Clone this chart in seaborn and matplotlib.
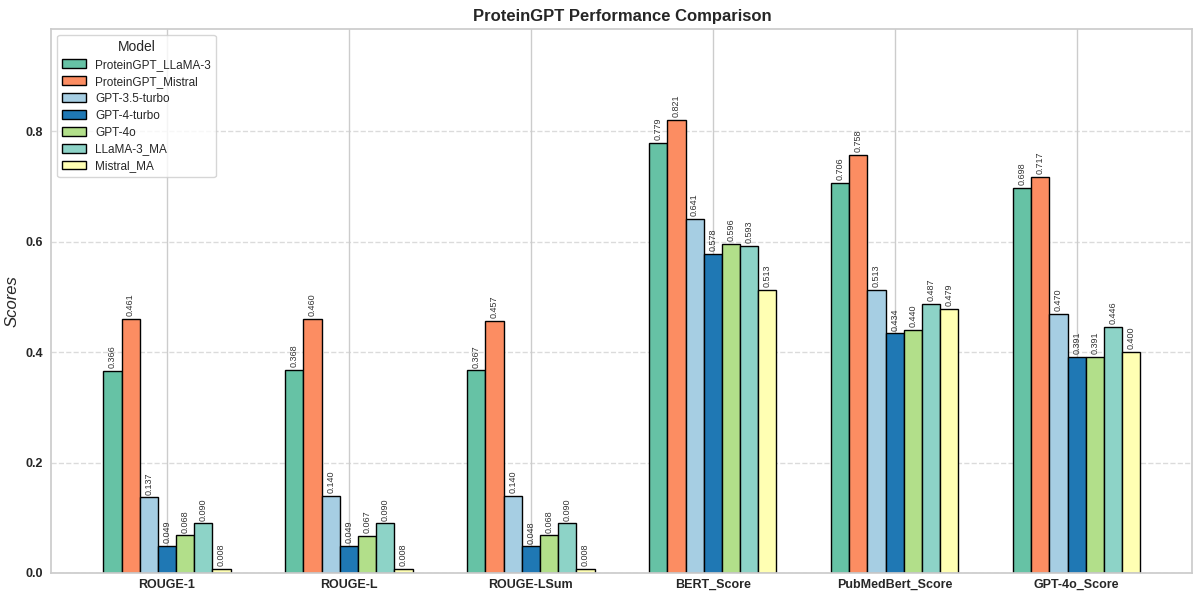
import matplotlib
matplotlib.use("Agg")
import matplotlib.pyplot as plt
import seaborn as sns
import pandas as pd

metrics = ["ROUGE-1", "ROUGE-L", "ROUGE-LSum", "BERT_Score", "PubMedBert_Score", "GPT-4o_Score"]
models = ["ProteinGPT_LLaMA-3", "ProteinGPT_Mistral", "GPT-3.5-turbo", "GPT-4-turbo",
          "GPT-4o", "LLaMA-3_MA", "Mistral_MA"]
llama3 = [0.366, 0.368, 0.367, 0.779, 0.706, 0.698]
mistral = [0.461, 0.460, 0.457, 0.821, 0.758, 0.717]
gpt35 = [0.137, 0.140, 0.140, 0.641, 0.513, 0.470]
gpt4t = [0.049, 0.049, 0.048, 0.578, 0.434, 0.391]
gpt4o = [0.068, 0.067, 0.068, 0.596, 0.440, 0.391]
llama_ma = [0.090, 0.090, 0.090, 0.593, 0.487, 0.446]
mistral_ma = [0.008, 0.008, 0.008, 0.513, 0.479, 0.400]
colors = ["#66c2a5", "#fc8d62", "#a6cee3", "#1f78b4", "#b2df8a", "#8dd3c7", "#ffffb3"]

series = [llama3, mistral, gpt35, gpt4t, gpt4o, llama_ma, mistral_ma]
rows = []
for m, vals in zip(models, series):
    for met, v in zip(metrics, vals):
        rows.append({"Metric": met, "Model": m, "Score": v})
df = pd.DataFrame(rows)

sns.set_theme(style="whitegrid")
plt.rcParams['font.family'] = ['Liberation Sans', 'DejaVu Sans']
fig, ax = plt.subplots(figsize=(11.97, 5.95), dpi=100)
sns.barplot(data=df, x="Metric", y="Score", hue="Model", order=metrics, hue_order=models,
            palette=colors, width=0.7, edgecolor="black", linewidth=1, saturation=1,
            errorbar=None, ax=ax)

for cont in ax.containers:
    ax.bar_label(cont, fmt="%.3f", rotation=90, fontsize=6.5, padding=2, color="#333333")

ax.set_ylim(0, max(mistral) * 1.2)
ax.set_xlim(-0.635, len(metrics) - 1 + 0.635)
ax.set_title("ProteinGPT Performance Comparison", fontsize=12, fontweight="bold", pad=6)
ax.set_ylabel("Scores", fontsize=12, fontstyle="italic", labelpad=4)
ax.set_xlabel("")
ax.yaxis.grid(True, linestyle="--", alpha=0.7)
ax.xaxis.grid(True)
ax.set_yticks([0.0, 0.2, 0.4, 0.6, 0.8])
ax.tick_params(axis="x", length=0, pad=4)
ax.tick_params(axis="y", length=0, pad=6)
for lbl in ax.get_xticklabels() + ax.get_yticklabels():
    lbl.set_fontweight("bold")
    lbl.set_fontsize(9)
leg = ax.legend(title="Model", loc="upper left", fontsize=8.5, title_fontsize=10,
                labelspacing=0.42)
fig.subplots_adjust(left=0.043, right=0.996, top=0.951, bottom=0.037)
fig.savefig("out.png", dpi=100)
